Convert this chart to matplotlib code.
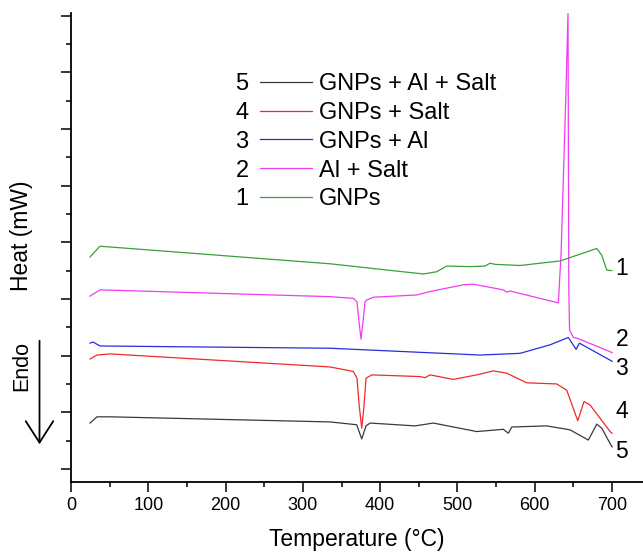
import matplotlib.pyplot as plt
from matplotlib.patches import FancyArrowPatch
from matplotlib.ticker import MultipleLocator

plt.rcParams["font.family"] = ["Liberation Sans", "DejaVu Sans"]

# DSC traces, temperature in degC, heat flow in arbitrary offset units
temp_gnps = [24.6, 37.5, 335.1, 455.8, 473.2, 486.1, 516.2, 535.6, 542.1, 548.6,
             580.9, 632.7, 680.2, 686.6, 693.1, 699.6]
heat_gnps = [3.74, 3.93, 3.62, 3.44, 3.48, 3.58, 3.57, 3.58, 3.63, 3.61,
             3.59, 3.67, 3.89, 3.77, 3.51, 3.50]

temp_al_salt = [24.6, 37.5, 335.1, 365.3, 370.0, 372.6, 375.2, 377.8, 380.4, 382.6,
                391.1, 447.3, 464.5, 507.6, 520.5, 559.3, 563.7, 568.0, 630.5, 634.0,
                640.0, 643.0, 643.5, 644.0, 645.0, 649.9, 654.3, 697.4, 700.0]
heat_al_salt = [3.05, 3.16, 3.04, 3.01, 2.95, 2.60, 2.29, 2.60, 2.95, 2.98,
                3.03, 3.07, 3.13, 3.25, 3.26, 3.16, 3.12, 3.14, 2.93, 3.80,
                6.50, 8.06, 5.60, 3.20, 2.45, 2.32, 2.31, 2.07, 2.05]

temp_gnps_al = [24.6, 28.5, 37.5, 335.1, 529.2, 580.9, 619.7, 643.4, 653.4, 657.7,
                697.4, 700.0]
heat_gnps_al = [2.22, 2.24, 2.17, 2.13, 2.01, 2.04, 2.19, 2.32, 2.11, 2.22,
                1.92, 1.90]

temp_gnps_salt = [24.6, 33.6, 50.5, 335.1, 365.3, 370.0, 373.0, 376.1, 379.0, 381.7,
                  389.1, 451.5, 458.0, 464.5, 494.6, 524.9, 546.4, 563.7, 589.6, 628.4,
                  641.3, 655.6, 663.7, 671.5, 697.4, 700.0]
heat_gnps_salt = [1.94, 2.01, 2.03, 1.80, 1.72, 1.60, 1.10, 0.72, 1.10, 1.60,
                  1.66, 1.63, 1.61, 1.66, 1.58, 1.66, 1.73, 1.69, 1.52, 1.50,
                  1.39, 0.85, 1.19, 1.13, 0.66, 0.63]

temp_all = [24.6, 33.6, 50.5, 335.1, 369.6, 376.1, 381.7, 386.9, 445.1, 468.8,
            524.9, 559.3, 565.8, 570.2, 615.5, 645.6, 669.3, 680.2, 686.6, 697.4,
            700.0]
heat_all = [0.81, 0.92, 0.92, 0.83, 0.78, 0.53, 0.76, 0.81, 0.76, 0.81,
            0.66, 0.70, 0.63, 0.74, 0.76, 0.69, 0.51, 0.79, 0.72, 0.45,
            0.39]

curve_numbers = ["5", "4", "3", "2", "1"]
curve_names = ["GNPs + Al + Salt", "GNPs + Salt", "GNPs + Al", "Al + Salt", "GNPs"]
curve_colors = ["#3a3a3a", "#ee2a2a", "#2b2bdd", "#f03cf0", "#3c9e3c"]
# right-hand curve tags: (number, heat level)
tag_levels = [("1", 3.53), ("2", 2.28), ("3", 1.78), ("4", 1.01), ("5", 0.30)]

fig = plt.figure(figsize=(6.43, 5.53), dpi=100)
ax = fig.add_axes([71 / 643, 71 / 553, 572 / 643, 469.3 / 553])

series = [
    (temp_all, heat_all),
    (temp_gnps_salt, heat_gnps_salt),
    (temp_gnps_al, heat_gnps_al),
    (temp_al_salt, heat_al_salt),
    (temp_gnps, heat_gnps),
]
handles = []
for (t, h), name, color in zip(series, curve_names, curve_colors):
    (line,) = ax.plot(t, h, color=color, lw=0.9, label=name)
    handles.append(line)

ax.set_xlim(0, 740)
ax.set_ylim(-0.23, 8.05)
ax.set_xticks([0, 100, 200, 300, 400, 500, 600, 700])
ax.xaxis.set_minor_locator(MultipleLocator(50))
ax.yaxis.set_major_locator(MultipleLocator(1))
ax.yaxis.set_minor_locator(MultipleLocator(0.5))
ax.tick_params(axis="y", which="both", labelleft=False)
ax.tick_params(axis="both", which="major", length=7, width=1.1, direction="out",
               labelsize=13)
ax.tick_params(axis="both", which="minor", length=3.6, width=1.1, direction="out")
for side in ("top", "right"):
    ax.spines[side].set_visible(False)
for side in ("left", "bottom"):
    ax.spines[side].set_linewidth(1.3)

ax.set_xlabel("Temperature (°C)", fontsize=16.5, labelpad=10.5)

for num, level in tag_levels:
    ax.text(712.5, level, num, fontsize=16.5, ha="center", va="center",
            clip_on=False)

fig.text(21.7 / 643, 1 - 236 / 553, "Heat (mW)", rotation=90, fontsize=16.5,
         ha="center", va="center")
fig.text(21.7 / 643, 1 - 366 / 553, "Endo", rotation=90, fontsize=15.5,
         ha="center", va="center")
fig.patches.append(FancyArrowPatch(
    (39.5 / 643, 1 - 338 / 553), (39.5 / 643, 1 - 447 / 553),
    transform=fig.transFigure, arrowstyle="->,head_length=0.7,head_width=0.45",
    mutation_scale=22, lw=1.3, color="black"))

leg = ax.legend(handles=handles, loc="upper left",
                bbox_to_anchor=(260 / 643, 1 - 73 / 553),
                bbox_transform=fig.transFigure, frameon=False, fontsize=17,
                handlelength=2.2, handletextpad=0.3, borderpad=0,
                labelspacing=0.29, borderaxespad=0)

# number each legend row on its left side
fig.canvas.draw()
renderer = fig.canvas.get_renderer()
for txt, num in zip(leg.get_texts(), curve_numbers):
    bb = txt.get_window_extent(renderer)
    yc = (bb.y0 + bb.y1) / 2 / fig.bbox.height
    fig.text(242 / 643, yc, num, fontsize=17, ha="center", va="center")

fig.savefig("out.png", dpi=100)
